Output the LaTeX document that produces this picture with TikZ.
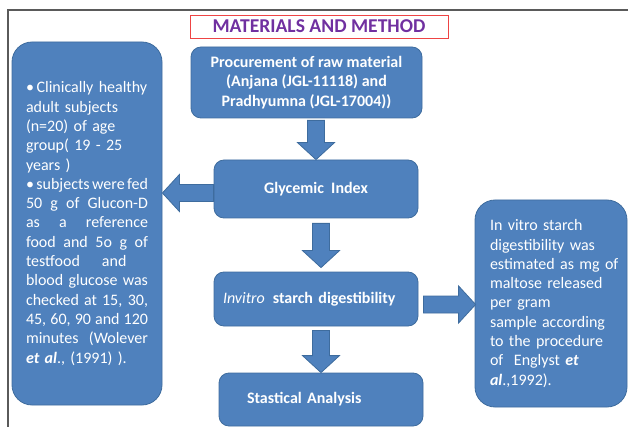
\documentclass[tikz,border=0pt]{standalone}
\usepackage{fontspec}
\setmainfont{Carlito}
\usetikzlibrary{calc}

\definecolor{boxblue}{HTML}{4F81BD}
\definecolor{boxedge}{HTML}{3E6C9E}
\definecolor{headpurple}{HTML}{7030A0}
\definecolor{headred}{HTML}{EE4444}
\definecolor{framegray}{HTML}{5A5A5A}

% one justified line of the note text (align=left fixes \spaceskip, so reset it)
\newcommand{\jline}[1]{{\spaceskip=0pt\xspaceskip=0pt\makebox[122pt][s]{#1}}}

% fat outlined arrow from #1 to #2
\newcommand{\blockarrow}[2]{%
  \coordinate (ba-s) at (#1);
  \coordinate (ba-t) at (#2);
  \coordinate (ba-h) at ($(ba-t)!17pt!(ba-s)$);
  \draw[barrow] ($(ba-s)!8.5pt!90:(ba-t)$) -- ($(ba-h)!8.5pt!90:(ba-t)$)
    -- ($(ba-h)!18.5pt!90:(ba-t)$) -- (ba-t) -- ($(ba-h)!18.5pt!-90:(ba-t)$)
    -- ($(ba-h)!8.5pt!-90:(ba-t)$) -- ($(ba-s)!8.5pt!-90:(ba-t)$) -- cycle;}

\begin{document}
\begin{tikzpicture}[x=1pt, y=-1pt,
    stepbox/.style={draw=boxedge, fill=boxblue, line width=0.8pt, rounded corners=10pt,
      text=white, inner sep=0pt, align=center, font=\fontsize{16}{19.3}\selectfont\bfseries},
    notebox/.style={stepbox, rounded corners=20pt, align=left,
      font=\fontsize{16}{19.3}\selectfont},
    barrow/.style={draw=boxedge, fill=boxblue, line width=0.8pt}]
  \useasboundingbox (0,0) rectangle (628,427);
  \draw[framegray, line width=1.4pt] (8,427) -- (8,10) -- (628,10);

  \node[draw=headred, line width=0.8pt, minimum width=258pt, minimum height=23pt,
    inner sep=0pt, text=headpurple, font=\fontsize{19.6}{23}\selectfont\bfseries]
    (title) at (319,26.5) {MATERIALS AND METHOD};

  % main steps
  \node[stepbox, minimum width=231pt, minimum height=71pt] (proc) at (306.5,82.5)
    {Procurement of raw material\\(Anjana (JGL-11118) and\\Pradhyumna (JGL-17004))};
  \node[stepbox, minimum width=204pt, minimum height=58pt] (gi) at (316,189)
    {Glycemic\ \ Index};
  \node[stepbox, minimum width=204pt, minimum height=54pt, text width=186pt,
    align=left] (inv) at (316,299)
    {{\mdseries\itshape Invitro}\,\ starch digestibility};
  \node[stepbox, minimum width=204pt, minimum height=53pt, text width=148pt,
    align=left] (stat) at (321,399.5) {Stastical Analysis};

  % side notes
  \node[notebox, minimum width=150pt, minimum height=363pt, text width=122pt]
    (ginote) at (87,223.5)
    {\textbullet\,Clinically healthy\\
     adult subjects\\
     (n=20) of age\\
     group( 19 - 25\\
     years )\\
     \jline{\textbullet\ subjects were fed}\\
     \jline{50 g of Glucon-D}\\
     \jline{as a reference}\\
     \jline{food and 5o g of}\\
     testfood\hspace{22pt}and\\
     \jline{blood glucose was}\\
     \jline{checked at 15, 30,}\\
     \jline{45, 60, 90 and 120}\\
     \jline{minutes\ \ (Wolever}\\
     \textbf{\textit{et al}}., (1991) ).};
  \node[notebox, minimum width=152pt, minimum height=207pt, text width=122pt]
    (ivnote) at (551,303.5)
    {In vitro starch\\
     digestibility was\\
     \mbox{estimated as mg of}\\
     maltose released\\
     per gram\\
     sample according\\
     to the procedure\\
     of~ Englyst \textbf{\textit{et}}\\
     \textbf{\textit{al}}.,1992).};

  % arrows
  \blockarrow{$(proc.south -| gi.north)+(0,2)$}{gi.north}
  \blockarrow{$(gi.south -| stat.north)+(0,5)$}{$(inv.north -| stat.north)+(0,-4)$}
  \blockarrow{$(inv.south -| stat.north)+(0,4)$}{stat.north}
  \blockarrow{$(gi.west)+(0,4)$}{$(ginote.east |- gi.west)+(0,4)$}
  \blockarrow{$(inv.east)+(5,5.5)$}{$(ivnote.west |- inv.east)+(1,5.5)$}
\end{tikzpicture}
\end{document}
